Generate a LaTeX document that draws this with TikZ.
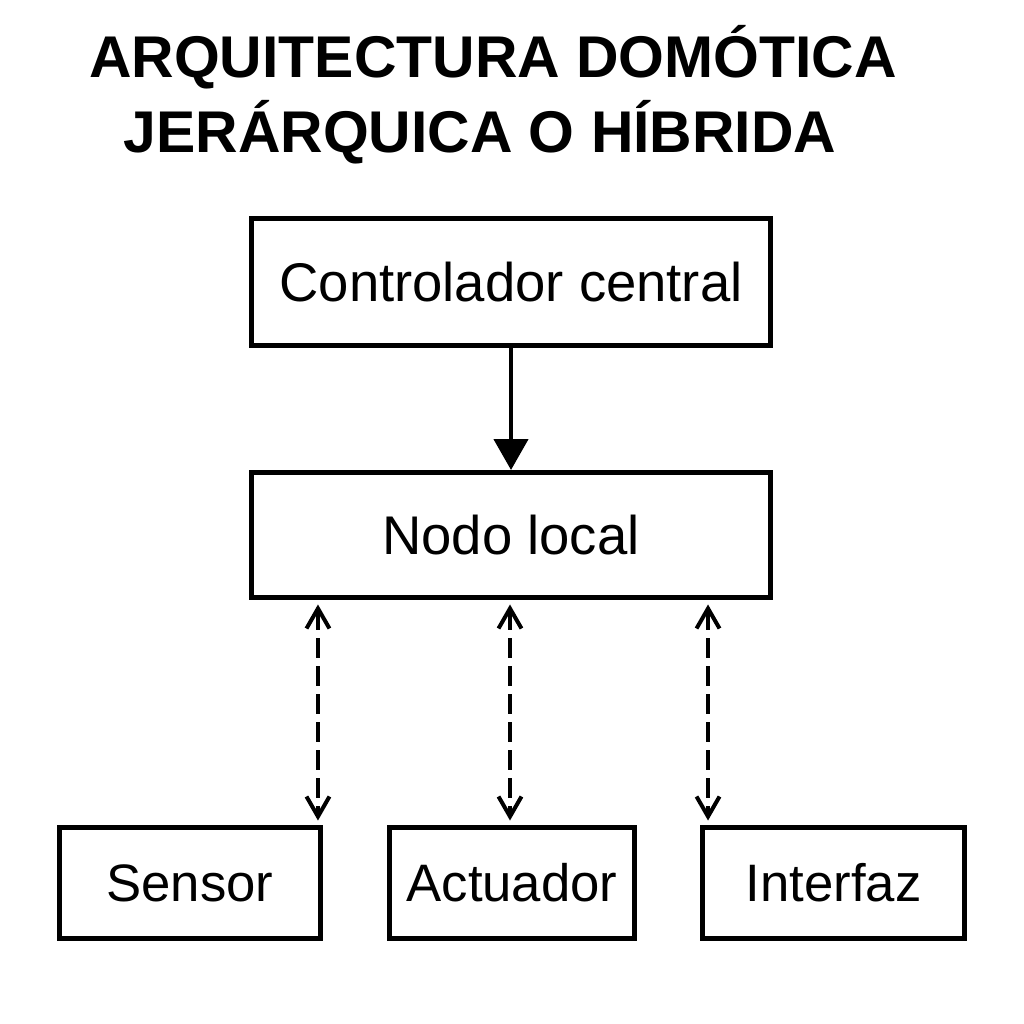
\documentclass[tikz,border=0pt]{standalone}
\usepackage{fontspec}
\setmainfont{Liberation Sans}
\usepackage{tikz}
\usetikzlibrary{arrows.meta,calc}
\tikzset{
    caja/.style={draw, line width=0.1cm, inner sep=0pt, align=center,
        font=\fontsize{31}{37}\selectfont}, % cajas superiores
    cajita/.style={caja, minimum height=2.22cm,
        font=\fontsize{30}{36}\selectfont}, % cajas de abajo
    enlace/.style={dash pattern=on 0.4cm off 0.16cm, line width=0.08cm,
        {Straight Barb[length=0.4cm,width=0.46cm]}-{Straight Barb[length=0.4cm,width=0.46cm]},
        shorten <=0.09cm, shorten >=0.09cm}
}

\begin{document}
\begin{tikzpicture}[x=0.02cm,y=-0.02cm]
        % Fondo y tamano de la pagina
        \fill[white] (0,0) rectangle (1024,1024);
        \useasboundingbox (0,0) rectangle (1024,1024);

        % Titulo
        \node[anchor=base, font=\fontsize{33.5}{42}\selectfont\bfseries] (titulo1) at (493,78) {ARQUITECTURA DOMÓTICA};
        \node[anchor=base, font=\fontsize{33.5}{42}\selectfont\bfseries] (titulo2) at (480,153) {JERÁRQUICA O HÍBRIDA};

        % Los dos niveles superiores
        \node[caja, minimum width=10.38cm, minimum height=2.54cm] (central) at (511,282) {Controlador central};
        \node[caja, minimum width=10.38cm, minimum height=2.5cm] (nodo) at (511,535) {Nodo local};

        % Dispositivos
        \node[cajita, minimum width=5.22cm] (sensor) at (190,883) {Sensor};
        \node[cajita, minimum width=4.9cm] (actuador) at (512,883) {Actuador};
        \node[cajita, minimum width=5.24cm] (interfaz) at (833.5,883) {Interfaz};

        % Flechas
        \draw[line width=0.09cm, -{Triangle[length=0.62cm,width=0.68cm]}] (central.south) -- (nodo.north);
        \draw[enlace] ([xshift=-0.1cm]sensor.north east |- nodo.south) -- ([xshift=-0.1cm]sensor.north east);
        \draw[enlace] ([xshift=-0.04cm]actuador.north |- nodo.south) -- ([xshift=-0.04cm]actuador.north);
        \draw[enlace] ([xshift=0.16cm]interfaz.north west |- nodo.south) -- ([xshift=0.16cm]interfaz.north west);
    \end{tikzpicture}
\end{document}
